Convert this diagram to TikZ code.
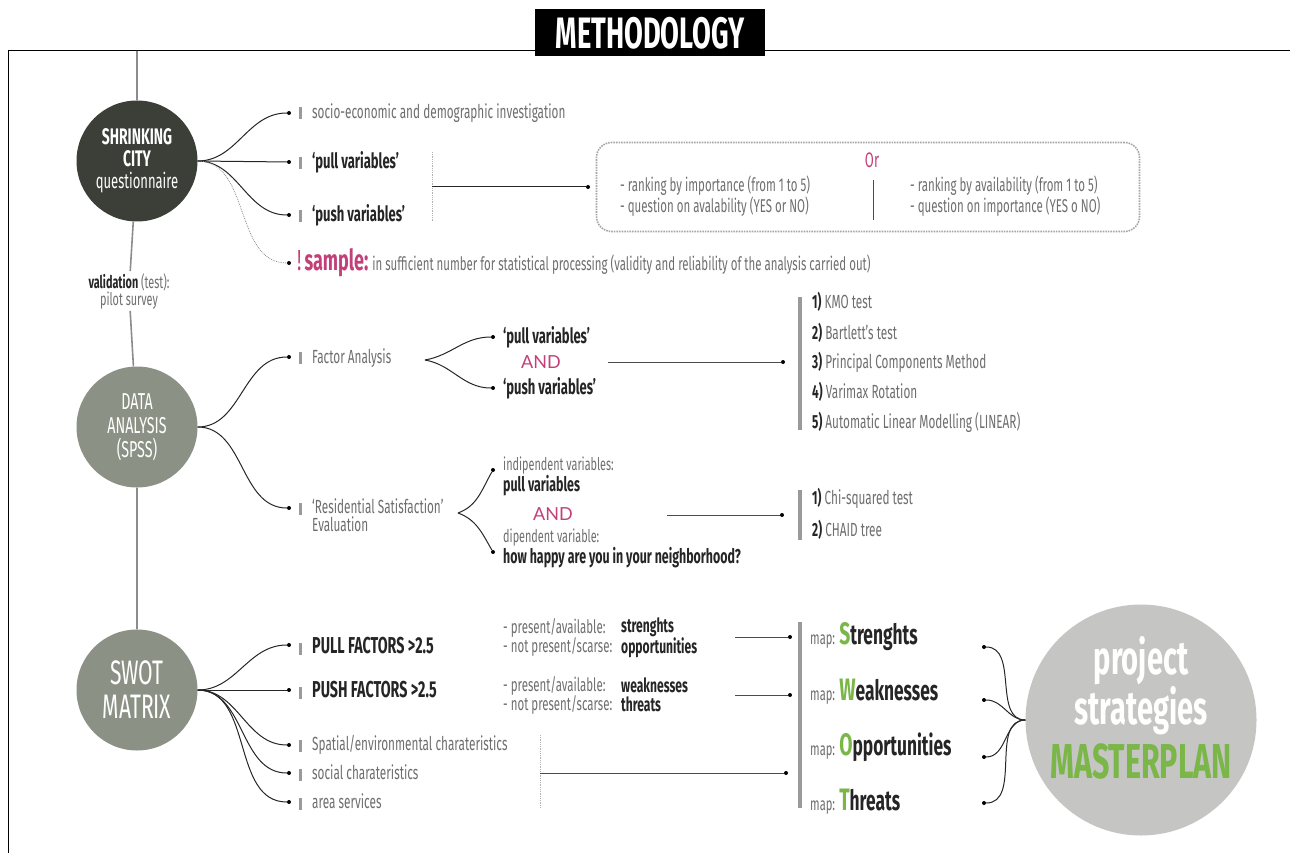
\documentclass[tikz,border=0pt]{standalone}
\usepackage{fontspec}
\setmainfont{Fira Sans}[FakeStretch=0.62]
\newfontfamily\andfont{Lato}
\usetikzlibrary{positioning,calc}
\definecolor{darkc}{HTML}{3B3F37}
\definecolor{midc}{HTML}{8C9186}
\definecolor{lightc}{HTML}{C5C5C3}
\definecolor{pinkc}{HTML}{C2407A}
\definecolor{greenc}{HTML}{7AB648}
\definecolor{greytxt}{HTML}{6E6E6E}
\definecolor{darktxt}{HTML}{252525}
\definecolor{bargray}{HTML}{9A9A9A}
\newcommand{\mk}{\textcolor{bargray}{\rule[-1pt]{3pt}{12pt}}\hspace{10pt}}
\newcommand{\num}[1]{\textcolor{darktxt}{\bfseries #1}}
\newcommand{\mapl}[2]{\textcolor{greytxt}{\fontsize{18}{18}\selectfont map:} {\fontsize{31}{30}\selectfont\bfseries\textcolor{greenc}{#1}}{\fontsize{28}{28}\selectfont\bfseries #2}}
\tikzset{
  dot/.style={circle,fill=black,inner sep=0pt,minimum size=4pt},
  txt/.style={anchor=west,inner sep=0pt,text=greytxt,font=\fontsize{19}{17}\selectfont},
  btxt/.style={txt,text=darktxt,font=\fontsize{21}{17}\selectfont\bfseries},
  bigtxt/.style={txt,text=darktxt,font=\fontsize{23}{20}\selectfont\bfseries},
  twotxt/.style={txt,align=left,font=\fontsize{17.5}{19}\selectfont},
  pairtxt/.style={txt,align=left,font=\fontsize{18.5}{19}\selectfont},
  twobtxt/.style={txt,align=left,text=darktxt,font=\fontsize{19.5}{19}\selectfont\bfseries},
  andtxt/.style={inner sep=0pt,text=pinkc,font=\andfont\fontsize{18}{18}\selectfont},
  link/.style={draw=black!85,line width=1pt},
  thin/.style={draw=black!70,line width=0.8pt},
  dotsep/.style={draw=black!30,densely dotted,line width=0.8pt},
  spine/.style={draw=black!45,line width=1.6pt},
  bar/.style={draw=bargray,line width=4pt},
  bubble/.style={circle,inner sep=0pt,text=white,align=center}
}
\begin{document}
\begin{tikzpicture}[x=1pt,y=-1pt]
\useasboundingbox (0,0) rectangle (1290,853);
\coordinate (fa) at (8,853);
\coordinate (fb) at (8,51);
\coordinate (fc) at (1290,51);
\draw[line width=1pt] (fa) -- (fb) -- (fc);
\node[fill=black,text=white,minimum width=230,minimum height=47,inner sep=0pt,font=\fontsize{44}{44}\selectfont\bfseries] (title) at (650,33) {METHODOLOGY};

\node[bubble,fill=darkc,minimum size=121,font=\fontsize{21}{22}\selectfont] (c1) at (137,161) {{\fontsize{22.5}{22}\selectfont\bfseries SHRINKING}\\{\fontsize{22.5}{22}\selectfont\bfseries CITY}\\questionnaire};
\node[bubble,fill=midc,minimum size=121,font=\fontsize{23}{24}\selectfont] (c2) at (137,427) {DATA\\ANALYSIS\\(SPSS)};
\node[bubble,fill=midc,minimum size=121,font=\fontsize{34}{34}\selectfont] (c3) at (137,690) {SWOT\\MATRIX};
\node[circle,fill=lightc,minimum size=231,inner sep=0pt] (c4) at (1141,720) {};
\node[inner sep=0pt,align=center,text=white,font=\fontsize{47}{44}\selectfont\bfseries] (c4txt) at (1141,708) {project\\strategies\\[8pt]\textcolor{greenc}{\fontsize{49}{46}\selectfont MASTERPLAN}};
\node[inner sep=2pt,align=center,text=greytxt,font=\fontsize{17.5}{17}\selectfont] (val) at (129,291) {\textcolor{darktxt}{\bfseries validation} (test):\\pilot survey};
\coordinate (top) at (137,51);
\draw[spine] (top) -- (c1) -- (val) -- (c2) -- (c3);

\coordinate (o1) at (c1.east);
\node[dot] (d11) at (289,113) {};
\node[dot] (d12) at (289,162) {};
\node[dot] (d13) at (289,215) {};
\node[dot] (d14) at (289,263) {};
\draw[link] (o1) to[out=0,in=180] (d11);
\draw[link] (o1) -- (d12);
\draw[link] (o1) to[out=0,in=180] (d13);
\draw[dotsep,draw=black!45] (o1) to[out=0,in=180] (d14);
\node[txt] (t11) at (299,113) {\mk socio-economic and demographic investigation};
\node[btxt] (t12) at (299,162) {\mk ‘pull variables’};
\node[btxt] (t13) at (299,215) {\mk ‘push variables’};
\node[txt,font=\fontsize{18.5}{17}\selectfont] (t14) at (297,263) {\textcolor{pinkc}{\fontsize{29}{20}\selectfont !\hspace{3pt}\bfseries sample:} in sufficient number for statistical processing (validity and reliability of the analysis carried out)};
\coordinate (v1a) at (432,152);
\coordinate (v1b) at (432,222);
\draw[dotsep] (v1a) -- (v1b);
\coordinate (j1) at (432,187);
\node[dot] (d15) at (588,187) {};
\draw[link] (j1) -- (d15);
\node[draw=black!35,densely dotted,line width=1.6pt,rounded corners=15pt,minimum width=543,minimum height=89] (orb) at (868,187) {};
\node[inner sep=0pt,text=pinkc,font=\fontsize{21}{20}\selectfont] (or) at (872,160) {Or};
\node[pairtxt] (ol) at (620,196) {- ranking by importance (from 1 to 5)\\- question on avalability (YES or NO)};
\node[pairtxt] (orr) at (910,196) {- ranking by availability (from 1 to 5)\\- question on importance (YES o NO)};
\coordinate (sa) at (873,180);
\coordinate (sb) at (873,220);
\draw[thin] (sa) -- (sb);

\coordinate (o2) at (c2.east);
\node[dot] (d21) at (289,357) {};
\node[dot] (d22) at (289,508) {};
\draw[link] (o2) to[out=0,in=180] (d21);
\draw[link] (o2) to[out=0,in=180] (d22);
\node[txt] (t21) at (299,358) {\mk Factor Analysis};
\node[twotxt,font=\fontsize{19}{18}\selectfont] (t22) at (299,516) {\mk ‘Residential Satisfaction’\\\phantom{\mk}Evaluation};
\coordinate (o21) at (425,360);
\node[dot] (d23) at (493,337) {};
\node[dot] (d24) at (493,388) {};
\draw[link] (o21) to[out=10,in=180] (d23);
\draw[link] (o21) to[out=-10,in=180] (d24);
\node[btxt] (t23) at (503,337) {‘pull variables’};
\node[btxt] (t24) at (503,388) {‘push variables’};
\node[andtxt] (and1) at (541,362) {AND};
\coordinate (j2) at (608,362);
\node[dot] (d25) at (783,362) {};
\draw[thin] (j2) -- (d25);
\coordinate (b1a) at (800,297);
\coordinate (b1b) at (800,430);
\draw[bar] (b1a) -- (b1b);
\node[txt] (l1) at (812,302) {\num{1)} KMO test};
\node[txt] (l2) at (812,333) {\num{2)} Bartlett’s test};
\node[txt] (l3) at (812,362) {\num{3)} Principal Components Method};
\node[txt] (l4) at (812,392) {\num{4)} Varimax Rotation};
\node[txt] (l5) at (812,422) {\num{5)} Automatic Linear Modelling (LINEAR)};
\coordinate (o22) at (458,513);
\node[dot] (d26) at (493,470) {};
\node[dot] (d27) at (493,552) {};
\draw[link] (o22) to[out=20,in=240] (d26);
\draw[link] (o22) to[out=-20,in=120] (d27);
\node[twotxt] (t25) at (503,476) {indipendent variables:\\\textcolor{darktxt}{\fontsize{20}{19}\selectfont\bfseries pull variables}};
\node[andtxt] (and2) at (553,514) {AND};
\node[twotxt] (t27) at (503,548) {dipendent variable:\\\textcolor{darktxt}{\fontsize{20}{19}\selectfont\bfseries how happy are you in your neighborhood?}};
\coordinate (j3) at (667,515);
\node[dot] (d28) at (782,515) {};
\draw[thin] (j3) -- (d28);
\coordinate (b2a) at (800,490);
\coordinate (b2b) at (800,540);
\draw[bar] (b2a) -- (b2b);
\node[txt] (l6) at (812,498) {\num{1)} Chi-squared test};
\node[txt] (l7) at (812,530) {\num{2)} CHAID tree};

\coordinate (o3) at (c3.east);
\node[dot] (d31) at (289,645) {};
\node[dot] (d32) at (289,690) {};
\node[dot] (d33) at (289,745) {};
\node[dot] (d34) at (289,773) {};
\node[dot] (d35) at (289,802) {};
\draw[link] (o3) to[out=0,in=180] (d31);
\draw[link] (o3) -- (d32);
\draw[link] (o3) to[out=0,in=180] (d33);
\draw[link] (o3) to[out=0,in=180] (d34);
\draw[link] (o3) to[out=0,in=180] (d35);
\node[bigtxt] (t31) at (299,646) {\mk PULL FACTORS >2.5};
\node[bigtxt] (t32) at (299,690) {\mk PUSH FACTORS >2.5};
\node[txt] (t33) at (299,745) {\mk Spatial/environmental charateristics};
\node[txt] (t34) at (299,773) {\mk social charateristics};
\node[txt] (t35) at (299,802) {\mk area services};
\node[pairtxt] (p1) at (503,638) {- present/available:\\- not present/scarse:};
\node[twobtxt] (p2) at (621,638) {strenghts\\opportunities};
\node[pairtxt] (p3) at (503,695) {- present/available:\\- not present/scarse:};
\node[twobtxt] (p4) at (621,695) {weaknesses\\threats};
\coordinate (j4) at (735,637);
\node[dot] (d36) at (790,637) {};
\draw[thin] (j4) -- (d36);
\coordinate (j5) at (735,695);
\node[dot] (d37) at (790,695) {};
\draw[thin] (j5) -- (d37);
\coordinate (v2a) at (540,735);
\coordinate (v2b) at (540,808);
\draw[dotsep] (v2a) -- (v2b);
\coordinate (j6) at (540,773);
\node[dot] (d38) at (786,773) {};
\draw[thin] (j6) -- (d38);
\coordinate (b3a) at (800,622);
\coordinate (b3b) at (800,808);
\draw[bar] (b3a) -- (b3b);
\node[txt,text=darktxt] (m1) at (810,637) {\mapl{S}{trenghts}};
\node[txt,text=darktxt] (m2) at (810,692) {\mapl{W}{eaknesses}};
\node[txt,text=darktxt] (m3) at (810,747) {\mapl{O}{pportunities}};
\node[txt,text=darktxt] (m4) at (810,802) {\mapl{T}{hreats}};
\coordinate (o4) at (c4.west);
\node[dot] (d41) at (984,647) {};
\node[dot] (d42) at (984,700) {};
\node[dot] (d43) at (984,757) {};
\node[dot] (d44) at (984,803) {};
\draw[link] (d41) to[out=0,in=180] (o4);
\draw[link] (d42) to[out=0,in=180] (o4);
\draw[link] (d43) to[out=0,in=180] (o4);
\draw[link] (d44) to[out=0,in=180] (o4);
\end{tikzpicture}
\end{document}
